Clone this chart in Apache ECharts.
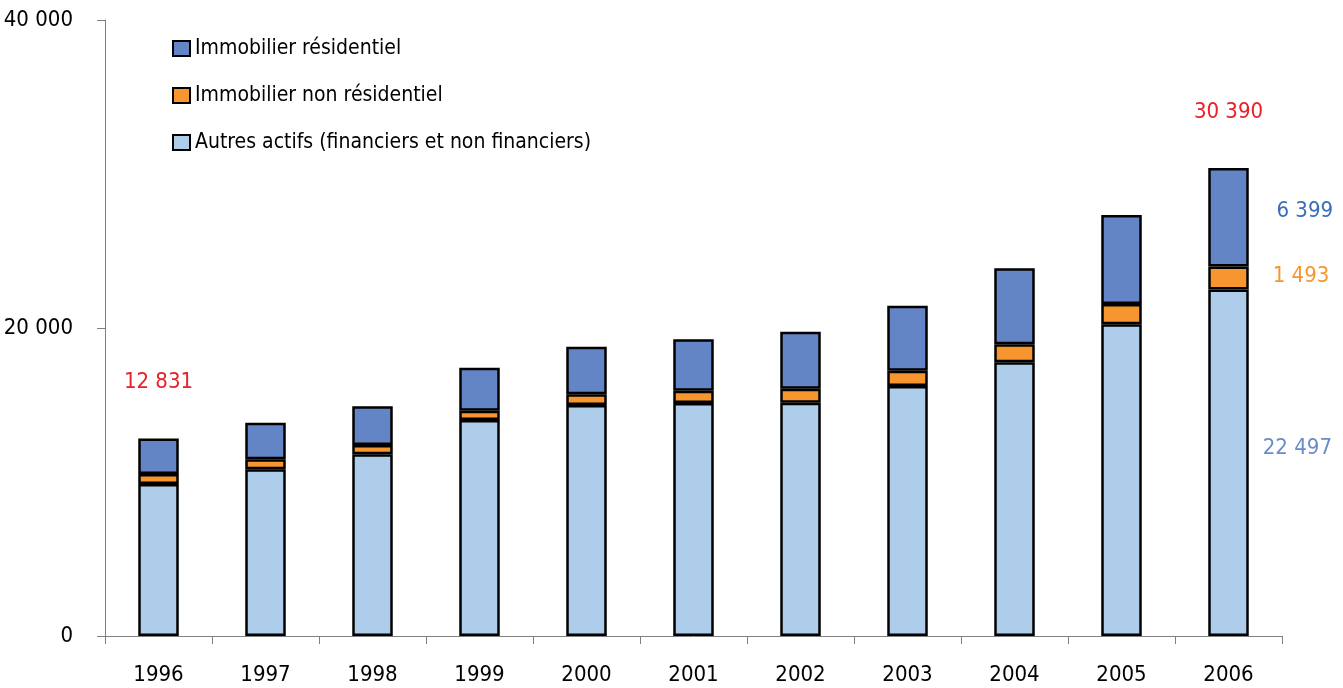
<!DOCTYPE html>
<html>
<head>
<meta charset="utf-8">
<script src="https://cdn.jsdelivr.net/npm/echarts@6/dist/echarts.min.js"></script>
<style>
html,body{margin:0;padding:0;background:#fff;}
#chart{width:1343px;height:688px;}
</style>
</head>
<body>
<div id="chart"></div>
<script>
// ---- Data ----
const years = ['1996','1997','1998','1999','2000','2001','2002','2003','2004','2005','2006'];
const autresActifs = [9870, 10823, 11797, 14026, 15000, 15130, 15152, 16234, 17771, 20238, 22497];
const nonResidentiel = [649, 650, 606, 606, 693, 801, 909, 995, 1168, 1320, 1493];
const residentiel = [2312, 2380, 2513, 2792, 3095, 3333, 3701, 4221, 4935, 5780, 6399];
const seriesNames = ['Immobilier résidentiel', 'Immobilier non résidentiel', 'Autres actifs (financiers et non financiers)'];
const yTicks = [0, 20000, 40000];
const totalLabelYears = ['1996', '2006'];
const totalLabelValues = [12831, 30390];
const partLabelYears = ['2006'];

const FONT = '"DejaVu Sans Condensed","Liberation Sans Narrow","Liberation Sans",sans-serif';
const fmt = v => String(Math.round(v)).replace(/\B(?=(\d{3})+(?!\d))/g, ' ');

const C_RES = '#6485C5', C_NON = '#F7962F', C_AUT = '#ADCDEB';
const border = {borderColor: '#000', borderWidth: 2.5};
const BW = 40.5;
const LFS = 22;

const resData = residentiel.map((v, i) => {
  const k = totalLabelYears.indexOf(years[i]);
  if (k >= 0) {
    return {value: v, label: {show: true, position: 'top', distance: 45, color: '#E8202A',
      fontFamily: FONT, fontSize: LFS, formatter: () => fmt(totalLabelValues[k])}};
  }
  return v;
});

function sideLabel(val, color, dist, off) {
  return {value: val, label: {show: true, position: 'right', distance: dist, offset: off,
    color: color, fontFamily: FONT, fontSize: LFS, formatter: () => fmt(val)}};
}
const nonData = nonResidentiel.map((v, i) => partLabelYears.includes(years[i]) ? sideLabel(v, C_NON, 24, [0, -2]) : v);
const autData = autresActifs.map((v, i) => partLabelYears.includes(years[i]) ? sideLabel(v, '#6A8CC8', 14, [0, -14]) : v);

const chart = echarts.init(document.getElementById('chart'), null, {renderer: 'canvas'});

const option = {
  backgroundColor: '#fff',
  animation: false,
  grid: {left: 105, right: 61, top: 20, bottom: 52, containLabel: false, outerBoundsMode: 'none'},
  legend: {
    orient: 'vertical', left: 172, top: 38, padding: 0,
    itemWidth: 17, itemHeight: 15, itemGap: 26,
    data: seriesNames,
    icon: 'rect',
    textStyle: {fontFamily: FONT, fontSize: 21, color: '#000', padding: [0, 0, 0, 0]},
    itemStyle: {borderColor: '#000', borderWidth: 2}
  },
  xAxis: {
    type: 'category', data: years,
    axisLine: {lineStyle: {color: '#808080', width: 1}},
    axisTick: {show: true, length: 8, lineStyle: {color: '#808080'}},
    axisLabel: {color: '#000', fontFamily: FONT, fontSize: LFS, margin: 28}
  },
  yAxis: {
    type: 'value', min: 0, max: 40000, interval: 20000,
    axisLine: {show: true, lineStyle: {color: '#808080', width: 1}},
    axisTick: {show: true, length: 8, lineStyle: {color: '#808080'}},
    splitLine: {show: false},
    axisLabel: {color: '#000', fontFamily: FONT, fontSize: LFS, margin: 32,
      formatter: v => yTicks.includes(v) ? fmt(v) : ''}
  },
  series: [
    {name: seriesNames[2], type: 'bar', stack: 'a', data: autData, barWidth: BW,
      itemStyle: Object.assign({color: C_AUT}, border)},
    {name: seriesNames[1], type: 'bar', stack: 'a', data: nonData, barWidth: BW,
      itemStyle: Object.assign({color: C_NON}, border)},
    {name: seriesNames[0], type: 'bar', stack: 'a', data: resData, barWidth: BW,
      itemStyle: Object.assign({color: C_RES}, border),
      markPoint: {
        symbol: 'rect', symbolSize: 0,
        data: partLabelYears.map(y => {
          const i = years.indexOf(y);
          return {
            coord: [y, autresActifs[i] + nonResidentiel[i] + residentiel[i] / 2],
            value: residentiel[i],
            label: {show: true, position: 'right', distance: 0, offset: [48, -6], color: '#3A6EB5',
              fontFamily: FONT, fontSize: LFS, formatter: () => fmt(residentiel[i])}
          };
        })
      }}
  ]
};
chart.setOption(option);
</script>
</body>
</html>
